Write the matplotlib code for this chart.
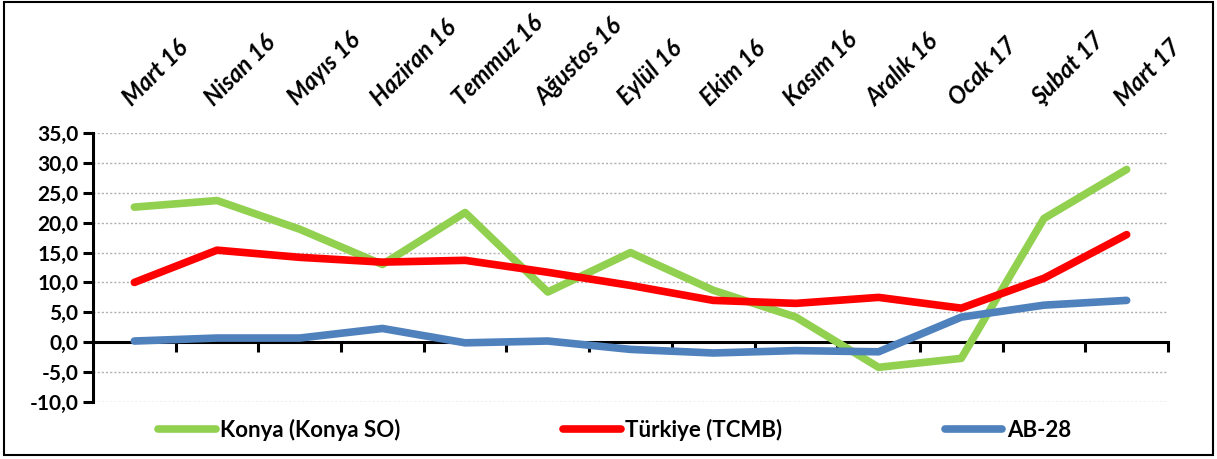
import matplotlib.pyplot as plt
from matplotlib.patches import Rectangle
from matplotlib.ticker import FuncFormatter

plt.rcParams['font.family'] = ['Lato', 'DejaVu Sans']

# data
months = ['Mart 16', 'Nisan 16', 'Mayıs 16', 'Haziran 16', 'Temmuz 16', 'Ağustos 16',
          'Eylül 16', 'Ekim 16', 'Kasım 16', 'Aralık 16', 'Ocak 17', 'Şubat 17', 'Mart 17']
konya = [22.6, 23.7, 18.9, 13.0, 21.7, 8.4, 15.0, 8.7, 4.2, -4.2, -2.7, 20.7, 28.9]
turkiye = [10.0, 15.4, 14.2, 13.4, 13.7, 11.7, 9.5, 7.0, 6.5, 7.5, 5.7, 10.7, 18.0]
ab28 = [0.2, 0.7, 0.7, 2.3, -0.1, 0.2, -1.2, -1.8, -1.4, -1.6, 4.2, 6.2, 7.0]

fig = plt.figure(figsize=(12.17, 4.59), dpi=100)
ax = fig.add_axes([93 / 1217, 1 - 402 / 459, (1168 - 93) / 1217, (402 - 133) / 459])

x = range(len(months))
lw = 5.5
ax.plot(x, konya, color='#92D050', lw=lw, solid_capstyle='round', label='Konya (Konya SO)', zorder=3)
ax.plot(x, turkiye, color='#FF0000', lw=lw, solid_capstyle='round', label='Türkiye (TCMB)', zorder=4)
ax.plot(x, ab28, color='#4F81BD', lw=lw, solid_capstyle='round', label='AB-28', zorder=5)

ax.set_xlim(-0.5, len(months) - 0.5)
ax.set_ylim(-10, 35)
ax.set_yticks(range(-10, 36, 5))
ax.yaxis.set_major_formatter(FuncFormatter(lambda v, p: f'{v:.1f}'.replace('.', ',')))
ax.grid(axis='y', color='#B0B0B0', linestyle=(0, (1.5, 1.5)), lw=1)
ax.set_axisbelow(True)

for s in ['top', 'right']:
    ax.spines[s].set_visible(False)
ax.spines['left'].set_linewidth(2.2)
ax.spines['bottom'].set_linewidth(2.2)
ax.spines['bottom'].set_position(('data', 0))

ax.set_xticks([i + 0.5 for i in range(len(months))])
ax.set_xticklabels([])
ax.tick_params(axis='x', direction='out', length=7, width=2.2)
ax.tick_params(axis='y', direction='out', length=7, width=2.2, labelsize=15)
for t in ax.get_yticklabels():
    t.set_fontweight('bold')

top = ax.secondary_xaxis('top')
top.set_xticks(list(x))
top.set_xticklabels(months, rotation=45, ha='left', va='bottom', rotation_mode='anchor',
                    fontsize=17, fontweight='bold', fontstyle='italic')
top.tick_params(length=0, pad=17)
top.spines['top'].set_visible(False)

fig.legend(loc='center', bbox_to_anchor=(0.505, 1 - 430 / 459), ncol=3, frameon=False,
           prop={'weight': 'bold', 'size': 16}, handlelength=2.6, handletextpad=0.2,
           columnspacing=7.3)

fig.patches.append(Rectangle((4 / 1217, 4 / 459), 1 - 8 / 1217, 1 - 6 / 459,
                             transform=fig.transFigure, fill=False, ec='black', lw=1.5))

fig.savefig('out.png', dpi=100)
